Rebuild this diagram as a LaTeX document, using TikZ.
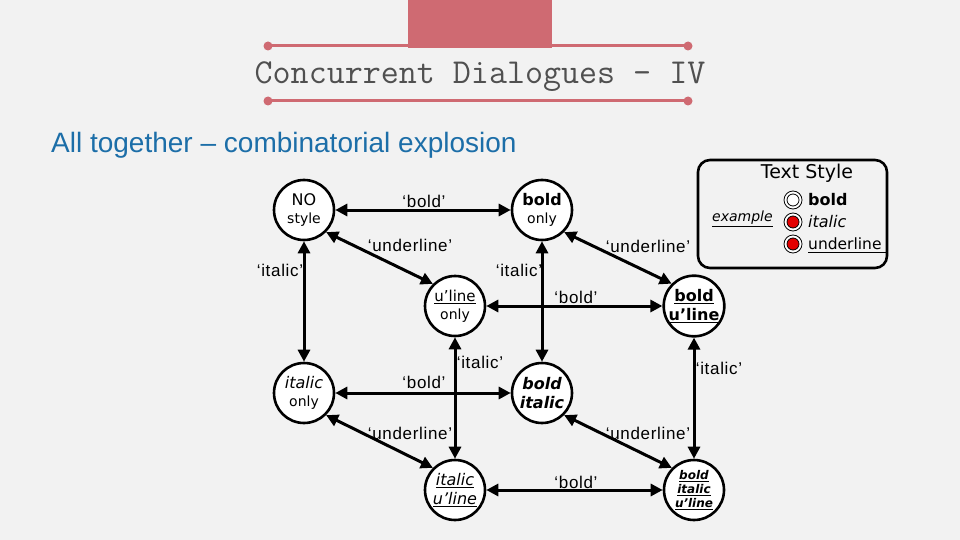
\documentclass[tikz,border=0pt]{standalone}
\usepackage{fontspec}
\setmainfont{DejaVu Sans}
\newfontfamily\lblfont[LetterSpace=4]{Liberation Sans}
\newfontfamily\subfont{Liberation Sans}
\usetikzlibrary{arrows.meta}
\definecolor{bg}{HTML}{F2F2F2}
\definecolor{accent}{RGB}{207,106,114}
\definecolor{subblue}{RGB}{28,110,168}
\definecolor{titlegray}{HTML}{505050}
\definecolor{radiored}{RGB}{228,0,0}
\tikzset{
  state/.style={circle, draw=black, line width=2.6pt, fill=white, minimum size=60pt, inner sep=0pt, align=center, text=black},
  link/.style={line width=3pt, {Triangle[length=12pt,width=12pt]}-{Triangle[length=12pt,width=12pt]}},
  lbl/.style={font=\lblfont\fontsize{17}{20}\selectfont, inner sep=0pt, text=black},
  legtxt/.style={inner sep=0pt, anchor=west, text=black},
  radioring/.style={draw=black, line width=0.8pt, fill=white},
}
\begin{document}
\begin{tikzpicture}[x=1pt,y=-1pt]
\useasboundingbox (0,0) rectangle (960,540);
\fill[bg] (0,0) rectangle (960,540);
% title bar
\fill[accent] (408,0) rectangle (552,48);
\draw[accent, line width=3pt] (268,46) -- (688,46);
\draw[accent, line width=3pt] (268,101) -- (688,101);
\fill[accent] (268,46) circle (4.5) (688,46) circle (4.5) (268,101) circle (4.5) (688,101) circle (4.5);
\node[anchor=base, inner sep=0pt, text=titlegray, font=\ttfamily\fontsize{35}{40}\selectfont] (title) at (480,84) {Concurrent Dialogues - IV};
\node[anchor=base west, inner sep=0pt, text=subblue, font=\subfont\fontsize{28}{32}\selectfont] (subtitle) at (51,153) {All together – combinatorial explosion};
% states
\node[state, font=\fontsize{14}{18}\selectfont] (no) at (304,210) {{\fontsize{16}{18}\selectfont NO}\\style};
\node[state, font=\fontsize{14}{18}\selectfont] (bo) at (542,210) {{\bfseries\fontsize{16}{18}\selectfont bold}\\only};
\node[state, font=\fontsize{14}{18}\selectfont] (ul) at (455,306) {{\fontsize{15}{18}\selectfont\underline{u’line}}\\only};
\node[state, font=\bfseries\fontsize{16}{19}\selectfont] (bu) at (694,306) {\underline{bold}\\\underline{u’line}};
\node[state, font=\fontsize{14}{18}\selectfont] (io) at (304,393) {{\itshape\fontsize{16}{18}\selectfont italic}\\only};
\node[state, font=\bfseries\itshape\fontsize{16}{19}\selectfont] (bi) at (542,393) {bold\\italic};
\node[state, font=\itshape\fontsize{16}{19}\selectfont] (iu) at (455,490) {\underline{italic}\\\underline{u’line}};
\node[state, font=\bfseries\itshape\fontsize{12}{14}\selectfont] (biu) at (694,490) {\underline{bold}\\\underline{italic}\\\underline{u’line}};
% transitions
\draw[link] (no) -- (bo);
\draw[link] (no.-45) -- (ul.135);
\draw[link] (no) -- (io);
\draw[link] (bo.-45) -- (bu.135);
\draw[link] (bo) -- (bi);
\draw[link] (ul) -- (bu);
\draw[link] (ul) -- (iu);
\draw[link] (bu) -- (biu);
\draw[link] (io) -- (bi);
\draw[link] (io.-45) -- (iu.135);
\draw[link] (bi.-45) -- (biu.135);
\draw[link] (iu) -- (biu);
% labels
\node[lbl] (l1) at (424,201) {‘bold’};
\node[lbl] (l2) at (410,245) {‘underline’};
\node[lbl] (l3) at (280,270) {‘italic’};
\node[lbl] (l4) at (648,246) {‘underline’};
\node[lbl] (l5) at (519,270) {‘italic’};
\node[lbl] (l6) at (576,297) {‘bold’};
\node[lbl] (l7) at (480,362) {‘italic’};
\node[lbl] (l8) at (719,368) {‘italic’};
\node[lbl] (l9) at (424,382) {‘bold’};
\node[lbl] (l10) at (410,433) {‘underline’};
\node[lbl] (l11) at (648,433) {‘underline’};
\node[lbl] (l12) at (576,482) {‘bold’};
% legend
\draw[line width=2.6pt, rounded corners=12pt] (698,160) rectangle (887,268);
\node[inner sep=0pt, text=black, font=\fontsize{19}{22}\selectfont] (legtitle) at (807,173) {Text Style};
\draw[radioring] (793,200) circle (9);
\draw[draw=black, line width=0.8pt, fill=white] (793,200) circle (6);
\draw[radioring] (793,222) circle (9);
\draw[draw=black, line width=0.8pt, fill=radiored] (793,222) circle (6);
\draw[radioring] (793,244) circle (9);
\draw[draw=black, line width=0.8pt, fill=radiored] (793,244) circle (6);
\node[legtxt, font=\bfseries\fontsize{16}{18}\selectfont] (legbold) at (808,200) {bold};
\node[legtxt, font=\itshape\fontsize{16}{18}\selectfont] (legital) at (808,222) {italic};
\node[legtxt, font=\fontsize{15.5}{18}\selectfont] (legul) at (808,244) {underline};
\draw[line width=1.2pt] (legul.base west) ++(0,3) -- +(79,0);
\node[legtxt, font=\itshape\fontsize{14}{16}\selectfont] (example) at (712,219) {\underline{example}};
\end{tikzpicture}
\end{document}
